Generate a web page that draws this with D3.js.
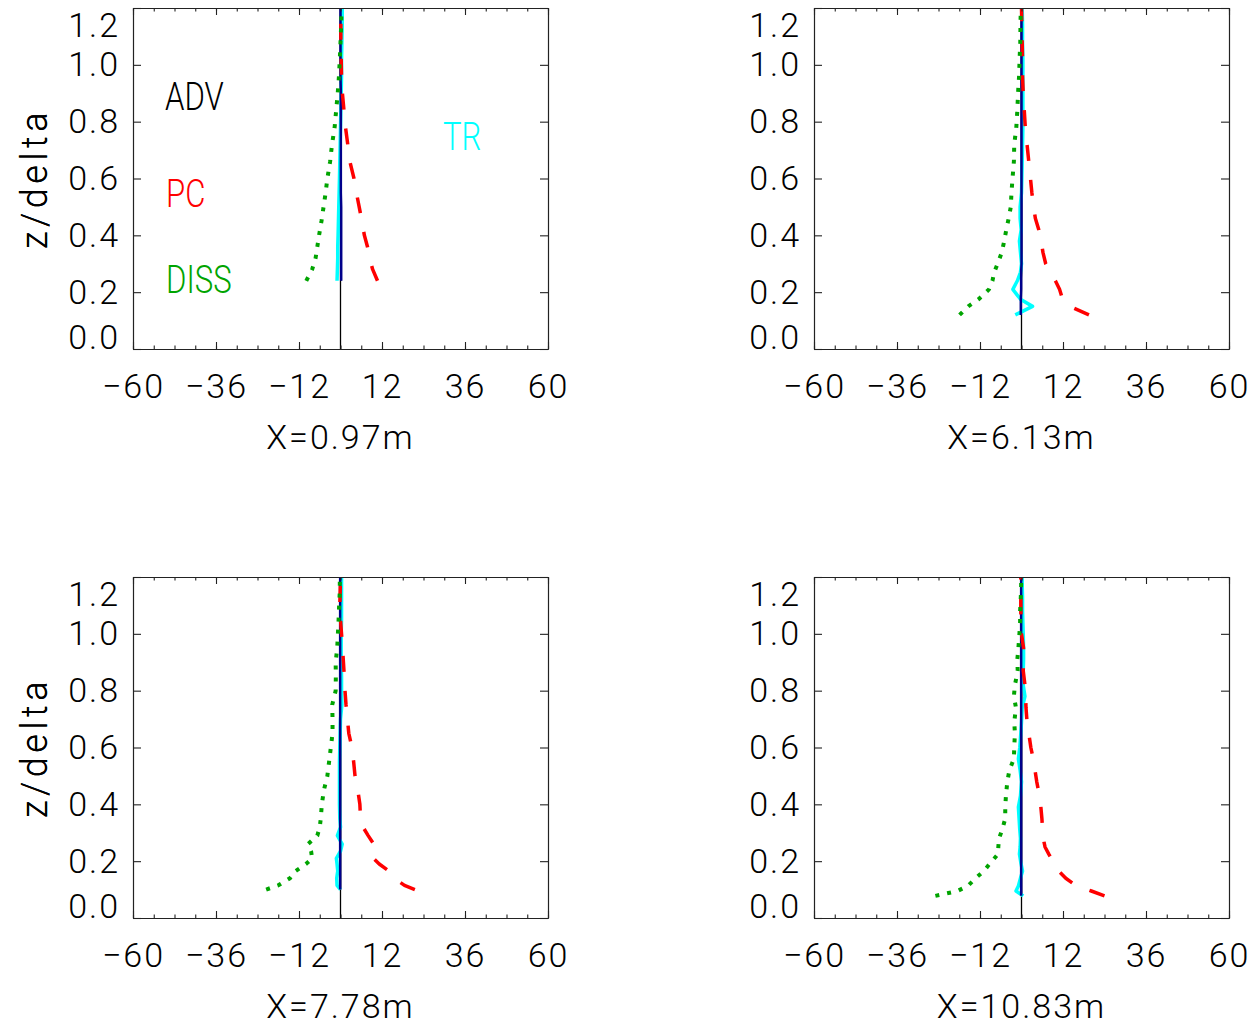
<!DOCTYPE html>
<html>
<head>
<meta charset="utf-8">
<script src="https://cdn.jsdelivr.net/npm/d3@7"></script>
<style>
  body { margin: 0; background: #fff; }
  svg { display: block; }
  text { font-family: Roboto, "Liberation Sans", Arial, sans-serif; font-weight: 300; }
</style>
</head>
<body>
<svg id="chart" width="1258" height="1025"></svg>
<script>
// Station labels and axis ticks
const stations = ["X=0.97m", "X=6.13m", "X=7.78m", "X=10.83m"];
const xMajorTicks = [-60, -36, -12, 12, 36, 60];
const xMinorTicks = d3.range(-60, 61, 6);
const zTicks = [0.0, 0.2, 0.4, 0.6, 0.8, 1.0, 1.2];
const legendNames = ["ADV", "PC", "DISS", "TR"];

// Station 1: budget terms versus z/delta
const z1    = [0.24, 0.28, 0.32, 0.36, 0.40, 0.45, 0.50, 0.55, 0.60, 0.66, 0.72, 0.78, 0.84, 0.90, 0.96, 1.02, 1.08, 1.14, 1.20];
const adv1  = [0.1, 0.1, 0.1, 0.1, 0.1, 0.1, 0.1, 0.1, 0.1, 0.0, 0.0, 0.0, 0.0, 0.0, 0.0, 0.0, 0.0, 0.0, 0.0];
const pc1   = [10.7, 9.3, 8.4, 7.8, 6.9, 6.2, 5.4, 4.6, 3.9, 2.7, 2.1, 1.45, 1.0, 0.55, 0.3, 0.2, 0.1, 0.1, 0.0];
const diss1 = [-9.9, -8.2, -7.2, -6.7, -6.2, -5.5, -4.9, -4.3, -3.8, -3.0, -2.45, -1.7, -1.25, -0.8, -0.45, -0.2, 0.0, 0.2, 0.3];
const tr1   = [-1.0, -0.9, -0.8, -0.8, -0.7, -0.6, -0.5, -0.4, -0.3, -0.2, -0.1, 0.0, 0.1, 0.2, 0.3, 0.3, 0.4, 0.5, 0.5];
const sum1  = [0.2, 0.2, 0.2, 0.2, 0.2, 0.2, 0.2, 0.1, 0.1, 0.1, 0.1, 0.1, 0.1, 0.1, 0.0, 0.0, 0.0, 0.0, 0.0];

// Station 2
const z2    = [0.12, 0.15, 0.175, 0.21, 0.24, 0.27, 0.30, 0.34, 0.38, 0.42, 0.46, 0.50, 0.55, 0.60, 0.66, 0.72, 0.78, 0.84, 0.90, 0.96, 1.02, 1.08, 1.14, 1.20];
const adv2  = [-0.1, -0.1, -0.1, -0.1, -0.1, 0.0, 0.0, 0.0, 0.0, 0.0, 0.0, 0.0, 0.0, 0.0, 0.0, 0.0, 0.0, 0.0, 0.0, 0.0, 0.0, 0.0, 0.0, 0.0];
const pc2   = [19.5, 14.0, 11.9, 11.0, 9.8, 8.2, 7.0, 6.2, 5.7, 5.0, 4.0, 3.5, 3.0, 2.6, 2.1, 1.6, 1.1, 0.8, 0.5, 0.3, 0.3, 0.2, 0.1, 0.0];
const diss2 = [-17.9, -15.4, -12.4, -9.4, -8.4, -7.9, -6.9, -5.7, -5.0, -4.4, -3.7, -3.1, -2.9, -2.6, -2.2, -2.1, -1.5, -1.2, -1.0, -0.7, -0.55, -0.35, -0.3, -0.2];
const tr2   = [-1.8, 3.2, -0.3, -2.5, -1.2, -0.3, 0.0, -0.3, -0.6, -0.1, -0.4, -0.4, 0.0, 0.1, 0.2, 0.3, 0.4, 0.4, 0.4, 0.4, 0.4, 0.3, 0.3, 0.2];
const sum2  = [-0.2, -0.2, -0.2, -0.1, -0.1, -0.1, 0.0, 0.0, 0.0, 0.0, 0.0, 0.0, 0.0, 0.0, 0.0, 0.0, 0.0, 0.0, 0.0, 0.0, 0.0, 0.0, 0.0, 0.0];

// Station 3
const z3    = [0.10, 0.115, 0.14, 0.165, 0.19, 0.21, 0.235, 0.26, 0.29, 0.32, 0.35, 0.40, 0.45, 0.50, 0.55, 0.60, 0.65, 0.70, 0.75, 0.80, 0.85, 0.90, 0.95, 1.00, 1.05, 1.10, 1.15, 1.20];
const adv3  = [0.0, 0.0, 0.0, 0.0, 0.0, 0.0, 0.0, 0.0, 0.0, 0.0, 0.0, 0.0, 0.0, 0.0, 0.0, 0.0, 0.0, 0.0, 0.0, 0.0, 0.0, 0.0, 0.0, 0.0, 0.0, 0.0, 0.0, 0.0];
const pc3   = [21.5, 18.5, 15.5, 14.0, 11.2, 9.5, 8.7, 9.6, 8.0, 6.5, 5.8, 5.6, 5.0, 4.2, 3.8, 3.3, 2.4, 2.0, 1.6, 1.3, 1.1, 0.85, 0.6, 0.3, 0.0, -0.2, -0.1, 0.0];
const diss3 = [-21.5, -18.0, -14.6, -13.0, -10.0, -8.2, -8.5, -9.4, -6.7, -6.0, -5.7, -5.4, -4.8, -3.8, -3.3, -2.8, -2.3, -2.3, -2.4, -1.4, -1.35, -1.4, -0.95, -0.75, -0.55, -0.4, -0.2, -0.2];
const tr3   = [0.0, -1.0, -1.1, -0.8, -1.0, -1.2, 0.0, 0.5, -0.9, 0.0, -0.2, -0.3, -0.3, -0.3, -0.3, -0.2, -0.1, 0.0, 0.4, 0.3, 0.3, 0.2, 0.2, 0.2, 0.3, 0.3, 0.3, 0.3];
const sum3  = [-0.1, -0.1, -0.1, -0.1, -0.1, -0.1, -0.1, -0.1, -0.1, -0.1, -0.1, -0.1, -0.1, -0.1, -0.1, -0.1, -0.1, -0.1, -0.1, -0.1, -0.1, -0.1, -0.1, -0.1, -0.1, -0.1, -0.1, -0.1];

// Station 4
const z4    = [0.078, 0.095, 0.113, 0.14, 0.165, 0.195, 0.225, 0.25, 0.28, 0.31, 0.35, 0.39, 0.43, 0.48, 0.52, 0.56, 0.60, 0.65, 0.69, 0.74, 0.78, 0.82, 0.87, 0.91, 0.95, 1.00, 1.04, 1.08, 1.13, 1.17, 1.20];
const adv4  = [0.0, 0.0, 0.0, 0.0, 0.0, 0.0, 0.0, 0.0, 0.0, 0.0, 0.0, 0.0, 0.0, 0.0, 0.0, 0.0, 0.0, 0.0, 0.0, 0.0, 0.0, 0.0, 0.0, 0.0, 0.0, 0.0, 0.0, 0.0, 0.0, 0.0, 0.0];
const pc4   = [24.0, 20.2, 15.9, 12.8, 10.8, 9.3, 7.9, 6.8, 6.3, 6.1, 5.9, 5.6, 5.2, 4.4, 3.9, 3.4, 2.7, 2.1, 1.6, 1.3, 1.2, 1.0, 0.5, 0.6, 0.6, 0.0, -0.1, -0.2, -0.2, -0.2, -0.2];
const diss4 = [-24.9, -18.5, -15.5, -13.3, -10.9, -8.9, -6.8, -6.7, -6.5, -5.6, -4.7, -4.7, -4.5, -4.1, -3.5, -2.2, -2.1, -1.9, -2.1, -1.6, -2.2, -1.9, -1.1, -1.2, -0.9, -0.6, -0.4, -0.4, -0.2, -0.1, -0.1];
const tr4   = [0.5, -1.6, -0.9, -0.3, 0.3, -0.2, -0.6, -0.4, -0.3, -0.5, -0.7, -0.9, -0.3, 0.0, -0.4, -0.9, -0.5, -0.2, 0.0, 0.2, 1.0, 0.5, 0.5, 0.6, 0.6, 0.5, 0.4, 0.3, 0.3, 0.2, 0.2];
const sum4  = [-0.1, -0.1, -0.1, -0.1, -0.1, -0.1, -0.1, -0.1, -0.1, -0.1, -0.1, -0.1, -0.1, -0.1, -0.1, -0.1, -0.1, -0.1, -0.1, -0.1, -0.1, -0.1, -0.1, -0.1, -0.1, -0.1, -0.1, -0.1, -0.1, -0.1, -0.1];

const stationData = [
  { z: z1, adv: adv1, pc: pc1, diss: diss1, tr: tr1, sum: sum1 },
  { z: z2, adv: adv2, pc: pc2, diss: diss2, tr: tr2, sum: sum2 },
  { z: z3, adv: adv3, pc: pc3, diss: diss3, tr: tr3, sum: sum3 },
  { z: z4, adv: adv4, pc: pc4, diss: diss4, tr: tr4, sum: sum4 }
];

// Layout of the 2x2 grid
const lefts = [133, 814];
const tops = [8, 577];
const W = 415, H = 341;

// Line styles, drawn back to front
const styles = [
  { key: "adv",  color: "#000000", width: 1.5, dash: null },
  { key: "tr",   color: "#00ffff", width: 3.5, dash: null },
  { key: "sum",  color: "#00008b", width: 2.5, dash: null },
  { key: "pc",   color: "#ff0000", width: 3.5, dash: "16,19" },
  { key: "diss", color: "#00a400", width: 4,   dash: "4,8" }
];

const svg = d3.select("#chart");
svg.append("rect").attr("width", 1258).attr("height", 1025).attr("fill", "#fff");

const numFmt = d3.format("d");

stationData.forEach((sd, i) => {
  const left = lefts[i % 2], top = tops[Math.floor(i / 2)];
  const x = d3.scaleLinear().domain([-60, 60]).range([0, W]);
  const y = d3.scaleLinear().domain([0, 1.2]).range([H, 0]);
  const g = svg.append("g").attr("transform", `translate(${left},${top})`);

  // zero reference line
  g.append("line")
    .attr("x1", x(0)).attr("x2", x(0))
    .attr("y1", y(0)).attr("y2", y(1.2))
    .attr("stroke", "#000").attr("stroke-width", 1.3);

  const pts = key => sd.z.map((z, k) => ({ z: z, v: sd[key][k] }));
  const line = d3.line().x(d => x(d.v)).y(d => y(d.z));

  styles.forEach(s => {
    g.append("path")
      .datum(pts(s.key))
      .attr("d", line)
      .attr("fill", "none")
      .attr("stroke", s.color)
      .attr("stroke-width", s.width)
      .attr("stroke-dasharray", s.dash)
      .attr("stroke-linejoin", "round");
  });

  // axes: minor and major ticks, bottom and top
  const axisStyle = sel => {
    sel.select(".domain").attr("stroke", "#222").attr("stroke-width", 1.2);
    sel.selectAll(".tick line").attr("stroke", "#222").attr("stroke-width", 1.1);
  };
  g.append("g").attr("transform", `translate(0,${H})`)
    .call(d3.axisBottom(x).tickValues(xMinorTicks).tickSizeInner(-3.5).tickSizeOuter(0).tickFormat(""))
    .call(axisStyle);
  g.append("g").call(d3.axisTop(x).tickValues(xMinorTicks).tickSizeInner(-3.5).tickSizeOuter(0).tickFormat(""))
    .call(axisStyle);
  g.append("g").call(d3.axisTop(x).tickValues(xMajorTicks).tickSizeInner(-7).tickSizeOuter(0).tickFormat(""))
    .call(axisStyle);
  const xb = g.append("g").attr("transform", `translate(0,${H})`)
    .call(d3.axisBottom(x).tickValues(xMajorTicks).tickSizeInner(-7).tickSizeOuter(0).tickPadding(25).tickFormat(numFmt))
    .call(axisStyle);
  xb.selectAll("text")
    .attr("fill", "#000").style("font-size", "34px").style("letter-spacing", "2px")
    .attr("font-family", null);

  const yl = g.append("g")
    .call(d3.axisLeft(y).tickValues(zTicks).tickSizeInner(-8).tickSizeOuter(0).tickPadding(13).tickFormat(d3.format(".1f")))
    .call(axisStyle);
  yl.selectAll("text")
    .attr("fill", "#000").style("font-size", "34px").style("letter-spacing", "2px")
    .attr("font-family", null);
  // pull the end labels inside the frame
  yl.selectAll(".tick").filter(d => d === 1.2).select("text").attr("y", 18);
  yl.selectAll(".tick").filter(d => d === 0).select("text").attr("y", -11);

  g.append("g").attr("transform", `translate(${W},0)`)
    .call(d3.axisRight(y).tickValues(zTicks).tickSizeInner(-8).tickSizeOuter(0).tickFormat(""))
    .call(axisStyle);

  // station title
  g.append("text")
    .attr("x", W / 2).attr("y", H + 100)
    .attr("text-anchor", "middle")
    .style("font-size", "34px").style("letter-spacing", "2px")
    .text(stations[i]);

  // vertical axis title
  g.append("text")
    .attr("transform", `translate(${47 - left},${H / 2}) rotate(-90)`)
    .attr("text-anchor", "middle")
    .style("font-size", "36px").style("letter-spacing", "4.5px")
    .text("z/delta");
});

// term labels in the first panel
const legendPos = [
  { x: 165, y: 110, color: "#000000" },
  { x: 166, y: 207, color: "#ff0000" },
  { x: 166, y: 293, color: "#00a400" },
  { x: 443, y: 150, color: "#00ffff" }
];
legendNames.forEach((name, k) => {
  svg.append("text")
    .attr("transform", `translate(${legendPos[k].x},${legendPos[k].y}) scale(0.82,1)`)
    .attr("fill", legendPos[k].color)
    .style("font-size", "38px")
    .text(name);
});
</script>
</body>
</html>
